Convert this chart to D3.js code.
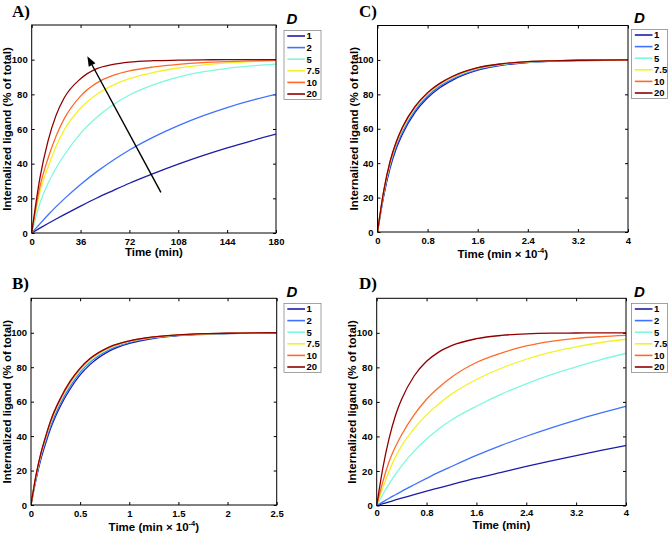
<!DOCTYPE html>
<html><head><meta charset="utf-8">
<script src="https://cdn.jsdelivr.net/npm/d3@7"></script>
<style>body{margin:0;background:#fff} svg{display:block}</style>
</head><body><svg id="chart" width="669" height="533"></svg>
<script>
// ---------------- data ----------------
const dLabels = ["1", "2", "5", "7.5", "10", "20"];
const yTicks = [0, 20, 40, 60, 80, 100];

const timeA = [0, 6, 12, 18, 24, 36, 48, 60, 72, 90, 108, 126, 144, 162, 180];
const ticksA = [0, 36, 72, 108, 144, 180];
const valuesA = [
  [0, 2.8, 5.5, 8.1, 10.6, 15.5, 20.2, 24.5, 28.7, 34.4, 39.7, 44.6, 49.1, 53.2, 57.0],
  [0, 5.3, 10.4, 15.2, 19.7, 28.0, 35.4, 42.0, 47.9, 55.5, 62.0, 67.6, 72.4, 76.5, 80.0],
  [0, 17, 28.5, 37.5, 45, 57.5, 66.8, 74.0, 79.6, 85.6, 89.9, 92.9, 95.0, 96.4, 97.4],
  [0, 23.5, 38, 50, 59.5, 72, 80, 85.3, 89.0, 92.7, 95.2, 96.9, 98.1, 98.9, 99.4],
  [0, 26.5, 43, 56, 66, 79, 86.6, 90.9, 93.5, 95.8, 97.3, 98.3, 98.9, 99.3, 99.6],
  [0, 31.5, 53, 68, 78, 89, 94.8, 97.3, 98.6, 99.4, 99.7, 99.9, 100, 100, 100]
];
const arrowA = [[95.2, 23.4], [41, 102]];

const timeB = [0, 0.05, 0.1, 0.15, 0.2, 0.3, 0.4, 0.5, 0.6, 0.8, 1.0, 1.25, 1.5, 2.0, 2.5];
const ticksB = [0, 0.5, 1, 1.5, 2, 2.5];
const valuesB = [
  [0, 14.5, 26.5, 36, 44.5, 57.5, 67.5, 75.5, 81.5, 89.5, 93.8, 96.7, 98.3, 99.5, 99.9],
  [0, 15.4, 27.8, 37.4, 46.0, 59.0, 69.0, 77.0, 82.8, 90.3, 94.4, 97.0, 98.5, 99.6, 99.9],
  [0, 16.1, 28.9, 38.6, 47.4, 60.4, 70.3, 78.0, 83.8, 90.9, 94.8, 97.3, 98.6, 99.6, 100],
  [0, 16.5, 29.4, 39.2, 48.1, 61.0, 71.0, 78.7, 84.3, 91.3, 95.0, 97.4, 98.7, 99.6, 100],
  [0, 16.8, 29.7, 39.6, 48.6, 61.5, 71.5, 79.1, 84.7, 91.6, 95.2, 97.5, 98.7, 99.7, 100],
  [0, 17, 30, 40, 49, 62, 72, 79.5, 85, 91.8, 95.3, 97.6, 98.8, 99.7, 100]
];

const timeC = [0, 0.1, 0.2, 0.3, 0.4, 0.6, 0.8, 1.0, 1.2, 1.6, 2.0, 2.4, 2.8, 3.2, 4.0];
const ticksC = [0, 0.8, 1.6, 2.4, 3.2, 4];
const valuesC = [
  [0, 21, 37, 48.5, 57, 69.5, 78, 84, 88.3, 94, 97, 98.5, 99.2, 99.6, 99.9],
  [0, 22, 38.4, 50, 58.4, 70.7, 79, 84.9, 89, 94.5, 97.3, 98.7, 99.3, 99.7, 100],
  [0, 23, 39.6, 51.2, 59.6, 71.8, 80, 85.7, 89.7, 95, 97.5, 98.8, 99.4, 99.7, 100],
  [0, 23.5, 40.2, 51.8, 60.3, 72.4, 80.5, 86.1, 90.1, 95.2, 97.7, 98.9, 99.5, 99.8, 100],
  [0, 23.8, 40.6, 52.2, 60.7, 72.7, 80.8, 86.3, 90.3, 95.4, 97.8, 99, 99.5, 99.8, 100],
  [0, 24, 41, 52.5, 61, 73, 81, 86.5, 90.5, 95.5, 97.8, 99, 99.5, 99.8, 100]
];

const timeD = [0, 0.1, 0.2, 0.3, 0.4, 0.6, 0.8, 1.0, 1.2, 1.6, 2.0, 2.4, 2.8, 3.2, 3.6, 4.0];
const ticksD = [0, 0.8, 1.6, 2.4, 3.2, 4];
const valuesD = [
  [0, 1.05, 2.1, 3.2, 4.2, 6.3, 8.3, 10.2, 12.1, 15.8, 19.2, 22.6, 25.8, 28.9, 31.9, 34.8],
  [0, 2.1, 4.2, 6.2, 8.2, 12.0, 15.7, 19.3, 22.6, 29.0, 34.8, 40.1, 45.0, 49.5, 53.6, 57.5],
  [0, 6.5, 12.5, 18, 23, 31.5, 38.5, 44.5, 49.5, 57.5, 64.5, 70.5, 75.8, 80.3, 84.5, 88.2],
  [0, 10.5, 20, 28, 34.5, 44.5, 52.5, 59, 64.5, 73, 79.5, 84.7, 88.8, 91.9, 94.4, 96.3],
  [0, 14, 25.5, 34, 41, 52.5, 61.5, 68.5, 74.3, 82.8, 88.3, 92.4, 95.1, 96.8, 97.8, 98.5],
  [0, 22, 39, 52, 61.5, 75, 83.5, 89, 92.6, 96.6, 98.5, 99.4, 99.8, 99.9, 100, 100]
];

// ---------------- styles ----------------
const colors = ["#1c1ca8", "#3f72ff", "#7ef8de", "#f2f22a", "#ff6a2a", "#900000"];
const sans = "'Liberation Sans', Arial, Helvetica, sans-serif";
const serif = "'Liberation Serif', 'Times New Roman', serif";

const svg = d3.select("#chart");

function drawPanel(o) {
  const x = d3.scaleLinear().domain(o.xDomain).range([o.left, o.right]);
  const y = d3.scaleLinear().domain([0, 120]).range([o.bottom, o.top]);
  const g = svg.append("g");
  const id = "clip" + o.letter;
  svg.append("clipPath").attr("id", id).append("rect")
    .attr("x", o.left).attr("y", o.top).attr("width", o.right - o.left).attr("height", o.bottom - o.top);

  g.append("rect").attr("x", o.left).attr("y", o.top)
    .attr("width", o.right - o.left).attr("height", o.bottom - o.top)
    .attr("fill", "#fff");

  const fmt = d => String(d);
  const axB = g.append("g").attr("transform", `translate(0,${o.bottom})`)
    .call(d3.axisBottom(x).tickValues(o.ticks).tickFormat(fmt).tickSizeInner(-3).tickSizeOuter(0).tickPadding(o.xPad));
  const axT = g.append("g").attr("transform", `translate(0,${o.top})`)
    .call(d3.axisTop(x).tickValues(o.ticks).tickFormat("").tickSizeInner(-3).tickSizeOuter(0));
  const axL = g.append("g").attr("transform", `translate(${o.left},0)`)
    .call(d3.axisLeft(y).tickValues(yTicks).tickFormat(fmt).tickSizeInner(-3).tickSizeOuter(0).tickPadding(4));
  const axR = g.append("g").attr("transform", `translate(${o.right},0)`)
    .call(d3.axisRight(y).tickValues(yTicks).tickFormat("").tickSizeInner(-3).tickSizeOuter(0));
  [axB, axT, axL, axR].forEach(a => {
    a.select(".domain").remove();
    a.selectAll("line").attr("stroke", "#000").attr("stroke-width", 1);
    a.selectAll("text").attr("font-family", sans).attr("font-weight", "bold")
      .attr("font-size", 9.5).attr("fill", "#000");
  });

  const line = d3.line().x((d, i) => x(o.time[i])).y(d => y(d)).curve(d3.curveMonotoneX);
  const lg = g.append("g").attr("clip-path", `url(#${id})`);
  o.values.forEach((vals, k) => {
    lg.append("path").attr("d", line(vals)).attr("fill", "none")
      .attr("stroke", colors[k]).attr("stroke-width", 1.3);
  });

  if (o.arrow) {
    const [p0, p1] = o.arrow;
    const x0 = x(p0[0]), y0 = y(p0[1]), x1 = x(p1[0]), y1 = y(p1[1]);
    const ang = Math.atan2(y1 - y0, x1 - x0);
    const L = 10, W = 3.8;
    const bx = x1 - L * Math.cos(ang), by = y1 - L * Math.sin(ang);
    g.append("line").attr("x1", x0).attr("y1", y0).attr("x2", bx).attr("y2", by)
      .attr("stroke", "#000").attr("stroke-width", 1.4);
    g.append("path").attr("d",
      `M${x1},${y1}L${bx + W * Math.sin(ang)},${by - W * Math.cos(ang)}L${bx - W * Math.sin(ang)},${by + W * Math.cos(ang)}Z`)
      .attr("fill", "#000");
  }

  g.append("rect").attr("x", o.left).attr("y", o.top)
    .attr("width", o.right - o.left).attr("height", o.bottom - o.top)
    .attr("fill", "none").attr("stroke", "#000").attr("stroke-width", 1);

  const xl = g.append("text").attr("x", (o.left + o.right) / 2).attr("y", o.bottom + o.xLabelDy)
    .attr("text-anchor", "middle").attr("font-family", sans).attr("font-weight", "bold")
    .attr("font-size", 11.5).attr("fill", "#000");
  if (o.sci) {
    xl.append("tspan").text("Time (min \u00d7 10");
    xl.append("tspan").attr("font-size", 7.5).attr("dy", -5).text("-4");
    xl.append("tspan").attr("dy", 5).text(")");
  } else {
    xl.text("Time (min)");
  }

  g.append("text")
    .attr("transform", `translate(${o.yLabelX},${(o.top + o.bottom) / 2}) rotate(-90)`)
    .attr("text-anchor", "middle").attr("font-family", sans).attr("font-weight", "bold")
    .attr("font-size", 11.5).attr("fill", "#000")
    .text("Internalized ligand (% of total)");

  g.append("text").attr("x", o.letterX).attr("y", o.letterY)
    .attr("font-family", serif).attr("font-weight", "bold").attr("font-size", 17)
    .attr("fill", "#000").text(o.letter + ")");

  const lx = o.legX, ly = o.legY;
  g.append("text").attr("x", lx + 2.5).attr("y", ly - 7)
    .attr("font-family", sans).attr("font-weight", "bold").attr("font-style", "italic")
    .attr("font-size", 15).attr("fill", "#000").text("D");
  g.append("rect").attr("x", lx).attr("y", ly).attr("width", o.legW).attr("height", 69)
    .attr("fill", "#fff").attr("stroke", "#8a8a8a").attr("stroke-width", 0.8);
  dLabels.forEach((lab, k) => {
    const yy = ly + 5.5 + k * 11.6;
    g.append("line").attr("x1", lx + 3.3).attr("x2", lx + 21).attr("y1", yy).attr("y2", yy)
      .attr("stroke", colors[k]).attr("stroke-width", 1.6);
    g.append("text").attr("x", lx + 22.5).attr("y", yy + 3.3)
      .attr("font-family", sans).attr("font-weight", "bold").attr("font-size", 9.5)
      .attr("fill", "#000").text(lab);
  });
}

drawPanel({letter: "A", left: 31.7, right: 276, top: 25, bottom: 233,
  xDomain: [0, 180], ticks: ticksA, time: timeA, values: valuesA, arrow: arrowA, xPad: 5,
  xLabelDy: 23, yLabelX: 11.3, letterX: 12, letterY: 17, legX: 284, legY: 30.5, legW: 37, sci: false});
drawPanel({letter: "C", left: 377.5, right: 628, top: 25.5, bottom: 232,
  xDomain: [0, 4], ticks: ticksC, time: timeC, values: valuesC, xPad: 5,
  xLabelDy: 26, yLabelX: 357.5, letterX: 359, letterY: 17, legX: 631.5, legY: 29.5, legW: 36, sci: true});
drawPanel({letter: "B", left: 31, right: 276.7, top: 298.3, bottom: 505,
  xDomain: [0, 2.5], ticks: ticksB, time: timeB, values: valuesB, xPad: 5,
  xLabelDy: 25.5, yLabelX: 10.5, letterX: 12, letterY: 289, legX: 284, legY: 303.5, legW: 37, sci: true});
drawPanel({letter: "D", left: 376.7, right: 626, top: 298.3, bottom: 505.5,
  xDomain: [0, 4], ticks: ticksD, time: timeD, values: valuesD, xPad: 4,
  xLabelDy: 23.5, yLabelX: 356, letterX: 359, letterY: 289, legX: 631.5, legY: 303.5, legW: 36, sci: false});
</script>
</body></html>
